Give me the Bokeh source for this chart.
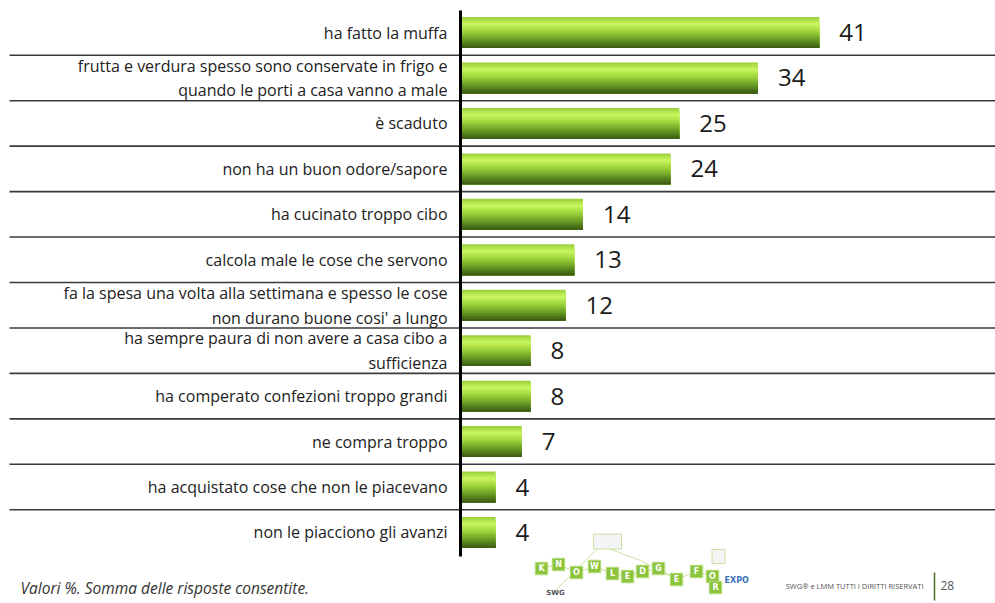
from bokeh.plotting import figure
from bokeh.models import Range1d, ColumnDataSource
from bokeh.core.properties import value
from bokeh.embed import file_html
from bokeh.resources import INLINE

# ---------------- data ----------------
categories = [
    "ha fatto la muffa",
    "frutta e verdura spesso sono conservate in frigo e\nquando le porti a casa vanno a male",
    "è scaduto",
    "non ha un buon odore/sapore",
    "ha cucinato troppo cibo",
    "calcola male le cose che servono",
    "fa la spesa una volta alla settimana e spesso le cose\nnon durano buone cosi' a lungo",
    "ha sempre paura di non avere a casa cibo a\nsufficienza",
    "ha comperato confezioni troppo grandi",
    "ne compra troppo",
    "ha acquistato cose che non le piacevano",
    "non le piacciono gli avanzi",
]
values = [41, 34, 25, 24, 14, 13, 12, 8, 8, 7, 4, 4]
footnote = "Valori %. Somma delle risposte consentite."
credits = "SWG® e LMM TUTTI I DIRITTI RISERVATI"
page_no = "28"
logo_letters = ["K", "N", "O", "W", "L", "E", "D", "G", "E", "F", "O", "R"]

# ---------------- layout helpers ----------------
W, H = 995, 603
PX_UNIT = 8.75          # pixels per percent
ROW = 45.45             # pixels per row
X0 = 460                # pixel of value 0
Y0 = 32                 # pixel of first row centre

def X(px):  # pixel -> data x
    return (px - X0) / PX_UNIT

def Y(py):  # pixel -> data y
    return (py - Y0) / ROW

n = len(categories)
rows = list(range(n))

p = figure(width=W, height=H, output_backend="svg", toolbar_location=None,
           x_range=Range1d(-X0 / PX_UNIT, (W - X0) / PX_UNIT),
           y_range=Range1d((H - Y0) / ROW, -Y0 / ROW),
           x_axis_type=None, y_axis_type=None, min_border=0,
           outline_line_color=None, background_fill_color="white",
           border_fill_color="white")
p.grid.visible = False

# separators between rows
sep_y = [r + 0.5 for r in rows[:-1]]
p.segment(x0=[X(9)] * len(sep_y), x1=[X(995)] * len(sep_y), y0=sep_y, y1=sep_y,
          line_color="#3a3a3a", line_width=1.6)

# gradient bars built from stacked slices (each slice reaches the bar bottom,
# so later slices cover earlier ones without gaps)
bar_h = 0.68
stops = [(0.0, (150, 205, 55)), (0.22, (202, 247, 95)), (0.45, (160, 215, 60)),
         (0.75, (100, 150, 35)), (1.0, (58, 88, 18))]

def grad(t):
    for (t0, c0), (t1, c1) in zip(stops[:-1], stops[1:]):
        if t0 <= t <= t1:
            f = (t - t0) / (t1 - t0)
            return "#%02x%02x%02x" % tuple(int(round(a + (b - a) * f)) for a, b in zip(c0, c1))
    return "#%02x%02x%02x" % stops[-1][1]

NS = 20
for k in range(NS):
    top = -bar_h / 2 + k * bar_h / NS
    hgt = bar_h / 2 - top
    p.hbar(y=[r + top + hgt / 2 for r in rows], right=values, left=0, height=hgt,
           fill_color=grad((k + 0.5) / NS), line_color=None)

# vertical axis line
p.segment(x0=[0], x1=[0], y0=[Y(10)], y1=[Y(556)], line_color="black", line_width=3)

# category labels
src = ColumnDataSource(dict(y=rows, label=categories, v=values,
                            vt=[str(v) for v in values]))
p.text(x=X(447), y="y", text="label", source=src, text_align="right",
       text_baseline="middle", text_font=value("Open Sans"), text_font_size="16px",
       text_color="#222222", text_line_height=1.12)

# value labels
p.text(x="v", y="y", text="vt", source=src, x_offset=20, text_align="left",
       text_baseline="middle", text_font=value("Open Sans"), text_font_size="24px",
       text_color="#1a1a1a")

# footnote
p.text(x=[X(20)], y=[Y(587)], text=[footnote], text_align="left", text_baseline="middle",
       text_font=value("Open Sans"), text_font_style="italic", text_font_size="15.5px",
       text_color="#333333")

# simplified "Knowledge for Expo" logo
lx = [541, 558, 576, 594, 612, 627, 642, 658, 676, 696, 712, 715]
ly = [568, 564, 572, 566, 573, 576, 571, 568, 579, 571, 576, 587]
p.line(x=[X(v) for v in lx], y=[Y(v) for v in ly], line_color="#c9e3a0", line_width=1)
p.line(x=[X(553), X(600), X(640), X(676)], y=[Y(592), Y(545), Y(560), Y(579)],
       line_color="#c9e3a0", line_width=1)
p.rect(x=[X(v) for v in lx], y=[Y(v) for v in ly], width=12.5 / PX_UNIT, height=12.5 / ROW,
       fill_color="#8cc43c", line_color="#b8dc80", line_width=1)
p.text(x=[X(v) for v in lx], y=[Y(v) for v in ly], text=logo_letters, text_align="center",
       text_baseline="middle", text_font=value("DejaVu Sans"), text_font_size="8px",
       text_color="white", text_font_style="bold")
p.rect(x=[X(607)], y=[Y(541)], width=28 / PX_UNIT, height=15 / ROW,
       fill_color="#f4f4f4", line_color="#c9e3a0")
p.rect(x=[X(718)], y=[Y(556)], width=13 / PX_UNIT, height=14 / ROW,
       fill_color="#f4f4f4", line_color="#c9e3a0")
p.text(x=[X(555)], y=[Y(592)], text=["SWG"], text_align="center", text_baseline="middle",
       text_font=value("DejaVu Sans"), text_font_size="7px", text_color="#555555",
       text_font_style="bold")
p.text(x=[X(724)], y=[Y(580)], text=["EXPO"], text_align="left", text_baseline="middle",
       text_font=value("DejaVu Sans"), text_font_size="8px", text_color="#3a6fb8",
       text_font_style="bold")

# credits and page number
p.text(x=[X(923)], y=[Y(585)], text=[credits], text_align="right", text_baseline="middle",
       text_font=value("Open Sans"), text_font_size="7.5px", text_color="#555555")
p.segment(x0=[X(934)], x1=[X(934)], y0=[Y(572)], y1=[Y(600)], line_color="#4d6b22",
          line_width=1.5)
p.text(x=[X(940)], y=[Y(585)], text=[page_no], text_align="left", text_baseline="middle",
       text_font=value("Open Sans"), text_font_size="12px", text_color="#555555")

open("out.html", "w").write(file_html(p, INLINE))
